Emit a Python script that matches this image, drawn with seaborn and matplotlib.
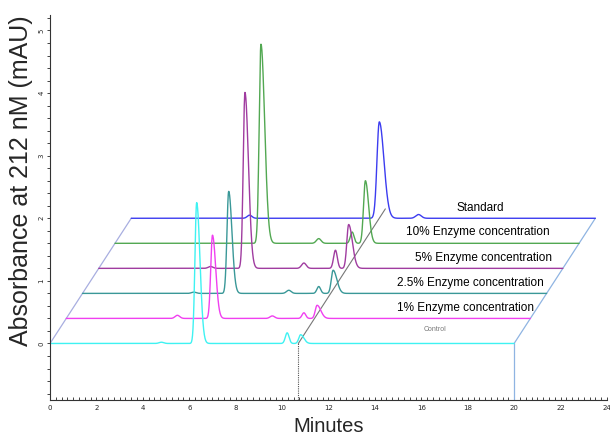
import numpy as np
import pandas as pd
import matplotlib
matplotlib.use("Agg")
import matplotlib.pyplot as plt
import seaborn as sns

# traces, back to front offsets (pseudo 3D stack)
trace_names = ["Control", "1% Enzyme concentration", "2.5% Enzyme concentration",
               "5% Enzyme concentration", "10% Enzyme concentration", "Standard"]
trace_colors = ["#3ff2f2", "#f040f0", "#3a9898", "#a03ca0", "#52a852", "#3c3cf0"]
x_shift = [0.0, 0.7, 1.4, 2.1, 2.8, 3.5]
y_shift = [0.0, 0.4, 0.8, 1.2, 1.6, 2.0]

# peak tables (retention time, height, left/right width)
control_rt = [4.8, 6.32, 10.22, 10.8]
control_h = [0.02, 2.25, 0.17, 0.14]
control_wl = [0.1, 0.075, 0.08, 0.08]
control_wr = [0.1, 0.14, 0.08, 0.14]

enz1_rt = [4.79, 6.30, 8.88, 10.24, 10.81]
enz1_h = [0.05, 1.33, 0.04, 0.09, 0.21]
enz1_wl = [0.1, 0.075, 0.1, 0.08, 0.08]
enz1_wr = [0.1, 0.14, 0.1, 0.08, 0.16]

enz25_rt = [4.8, 6.30, 8.89, 10.18, 10.80]
enz25_h = [0.02, 1.63, 0.05, 0.11, 0.37]
enz25_wl = [0.1, 0.075, 0.1, 0.08, 0.08]
enz25_wr = [0.1, 0.14, 0.1, 0.08, 0.16]

enz5_rt = [4.82, 6.30, 8.84, 10.20, 10.77]
enz5_h = [0.03, 2.81, 0.085, 0.29, 0.70]
enz5_wl = [0.1, 0.075, 0.1, 0.08, 0.08]
enz5_wr = [0.1, 0.15, 0.1, 0.08, 0.16]

enz10_rt = [6.29, 8.78, 10.22, 10.79]
enz10_h = [3.18, 0.075, 0.18, 1.00]
enz10_wl = [0.077, 0.1, 0.08, 0.08]
enz10_wr = [0.16, 0.1, 0.08, 0.14]

std_rt = [5.1, 10.69, 12.38]
std_h = [0.05, 1.54, 0.06]
std_wl = [0.1, 0.1, 0.12]
std_wr = [0.1, 0.2, 0.12]

peak_tables = [
    (control_rt, control_h, control_wl, control_wr),
    (enz1_rt, enz1_h, enz1_wl, enz1_wr),
    (enz25_rt, enz25_h, enz25_wl, enz25_wr),
    (enz5_rt, enz5_h, enz5_wl, enz5_wr),
    (enz10_rt, enz10_h, enz10_wl, enz10_wr),
    (std_rt, std_h, std_wl, std_wr),
]

run_start, run_end = 0.0, 20.0
marker_time = 10.7

# label positions (data coords)
label_x = [16.6, 17.9, 18.1, 18.7, 18.45, 18.54]
label_y = [0.22, 0.57, 0.97, 1.37, 1.78, 2.17]


def chromatogram(t, rts, hs, wls, wrs):
    sig = np.zeros_like(t)
    for rt, h, wl, wr in zip(rts, hs, wls, wrs):
        w = np.where(t < rt, wl, wr)
        sig += h * np.exp(-0.5 * ((t - rt) / w) ** 2)
    return sig


t = np.linspace(run_start, run_end, 2001)
frames = []
for name, (rts, hs, wls, wrs), dx, dy in zip(trace_names, peak_tables, x_shift, y_shift):
    sig = chromatogram(t, rts, hs, wls, wrs)
    frames.append(pd.DataFrame({"x": t + dx, "y": sig + dy, "trace": name}))
df = pd.concat(frames, ignore_index=True)

sns.set_style("ticks")
plt.rcParams["font.family"] = ["Liberation Sans", "DejaVu Sans"]

fig = plt.figure(figsize=(6.1, 4.36), dpi=100)
ax = fig.add_axes([0.082, 0.083, 0.913, 0.883])

# frame of the stack
ax.plot([run_start, run_start + x_shift[-1]], [0, y_shift[-1]], color="#a8aee0", lw=0.9)
ax.plot([run_end, run_end + x_shift[-1]], [0, y_shift[-1]], color="#8fb4e2", lw=0.9)
ax.plot([run_end, run_end], [-0.9, 0], color="#8fb4e2", lw=0.9)
ax.plot([marker_time, marker_time + 3.75], [0, 2.15], color="#777777", lw=0.8)
ax.plot([marker_time, marker_time], [-0.9, 0], color="#555555", lw=0.8, ls=(0, (1, 1)))

palette = dict(zip(trace_names, trace_colors))
sns.lineplot(data=df, x="x", y="y", hue="trace", hue_order=trace_names[::-1],
             palette=palette, estimator=None, sort=False, legend=False, lw=1.0, ax=ax)

for name, lx, ly in zip(trace_names, label_x, label_y):
    if name == "Control":
        ax.text(lx, ly, name, ha="center", va="center", fontsize=5, color="#777777")
    else:
        ax.text(lx, ly, name, ha="center", va="center", fontsize=8.5, color="black")

ax.set_xlim(0, 24)
ax.set_ylim(-0.9, 5.25)
ax.set_xticks(np.arange(0, 25, 2))
ax.set_xticks(np.arange(0, 24.01, 0.25), minor=True)
ax.set_yticks(np.arange(0, 6, 1))
ax.set_yticks(np.arange(-0.8, 5.21, 0.2), minor=True)
ax.tick_params(axis="x", which="both", direction="in", length=2, width=0.6, labelsize=5, pad=4)
ax.tick_params(axis="y", which="both", direction="out", length=2, width=0.6, labelsize=5, pad=2)
for lab in ax.get_yticklabels():
    lab.set_rotation(90)
    lab.set_va("center")
for lab in ax.get_xticklabels() + ax.get_yticklabels():
    lab.set_family(["Liberation Sans Narrow", "DejaVu Sans"])

ax.set_xlabel("Minutes", fontsize=14.5)
ax.set_ylabel("Absorbance at 212 nM (mAU)", fontsize=18)
ax.xaxis.set_label_coords(0.5, -0.045, transform=ax.transAxes)
ax.xaxis.label.set_va("top")
ax.yaxis.set_label_coords(-0.052, 0.57, transform=ax.transAxes)
ax.yaxis.label.set_va("center")
sns.despine(ax=ax)
for sp in ["left", "bottom"]:
    ax.spines[sp].set_linewidth(0.8)
    ax.spines[sp].set_color("#333333")

fig.savefig("out.png", dpi=100)
